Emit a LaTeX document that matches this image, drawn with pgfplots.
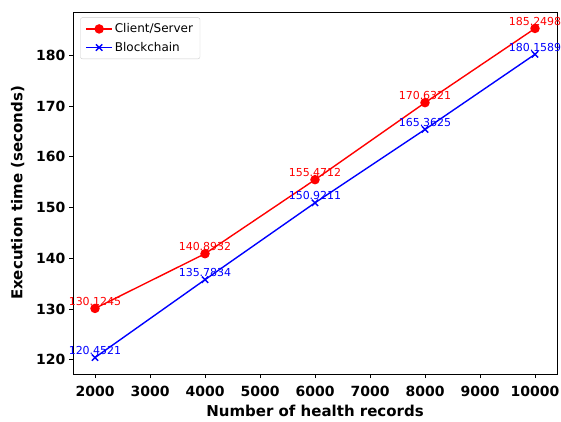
\documentclass[border=0pt]{standalone}
\usepackage{fontspec}
\setmainfont{DejaVu Sans}
\usepackage{pgfplots}
\pgfplotsset{compat=1.18}
\usetikzlibrary{calc}
\begin{document}
\begin{tikzpicture}
\begin{axis}[
  scale only axis,
  width=484pt, height=362pt,
  xmin=1600, xmax=10400,
  ymin=117.21, ymax=188.49,
  xtick={2000,3000,4000,5000,6000,7000,8000,9000,10000},
  ytick={120,130,140,150,160,170,180},
  /pgf/number format/assume math mode=true,
  /pgf/number format/1000 sep={},
  scaled x ticks=false,
  tick align=outside,
  tick pos=left,
  major tick length=4pt,
  tick style={black, line width=0.8pt},
  axis line style={line width=0.8pt},
  ticklabel style={font=\fontsize{14}{16}\selectfont\bfseries},
  xticklabel style={yshift=-5pt},
  xlabel={Number of health records},
  ylabel={Execution time (seconds)},
  label style={font=\fontsize{15}{18}\selectfont\bfseries},
  xlabel style={yshift=-1pt},
  ylabel style={yshift=5pt},
  legend style={font=\fontsize{12}{14}\selectfont, draw=black!20, rounded corners=2pt, inner xsep=5pt, inner ysep=4pt, row sep=4pt, at={(0.015,0.985)}, anchor=north west},
  legend cell align=left,
  legend image code/.code={\draw[mark repeat=2,mark phase=2] plot coordinates {(0pt,0pt)(13pt,0pt)(26pt,0pt)};},
  nodes near coords,
  point meta=y,
  nodes near coords style={font=\fontsize{11}{13}\selectfont, anchor=south, yshift=0pt, inner sep=2pt,
    /pgf/number format/fixed, /pgf/number format/fixed zerofill, /pgf/number format/precision=4, /pgf/number format/assume math mode=true},
]
\addplot[red, line width=1.4pt, mark=*, mark size=4pt, every node near coord/.append style={text=red}] coordinates {
(2000,130.1245) (4000,140.8932) (6000,155.4712) (8000,170.6321) (10000,185.2498)};
\addlegendentry{Client/Server}
\addplot[blue, line width=1.4pt, mark=x, mark size=4.5pt, every node near coord/.append style={text=blue}] coordinates {
(2000,120.4521) (4000,135.7834) (6000,150.9211) (8000,165.3625) (10000,180.1589)};
\addlegendentry{Blockchain}
\end{axis}
\pgfresetboundingbox
\path ($(current axis.south west)+(-73pt,-47pt)$) rectangle ($(current axis.north east)+(4pt,12pt)$);
\end{tikzpicture}
\end{document}
